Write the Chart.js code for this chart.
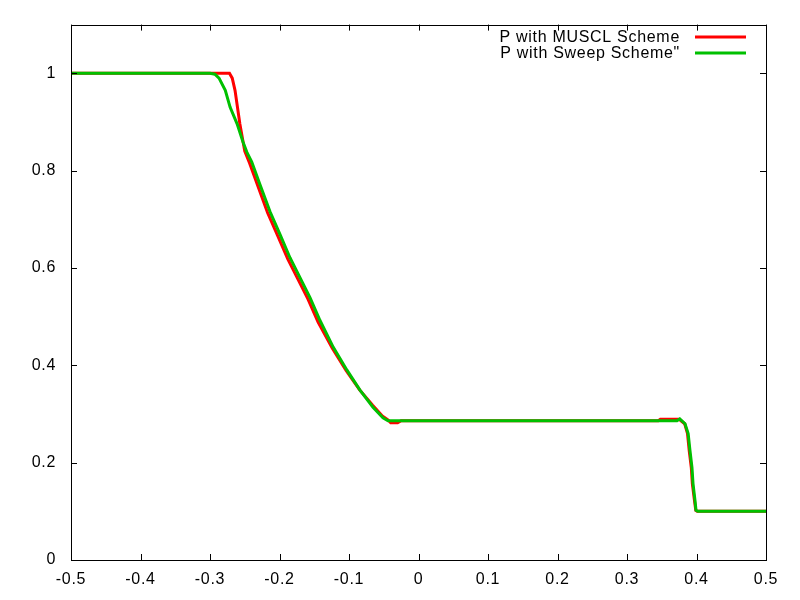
<!DOCTYPE html>
<html>
<head>
<meta charset="utf-8">
<script src="https://cdn.jsdelivr.net/npm/chart.js@4.4.1/dist/chart.umd.min.js"></script>
<style>
  body { margin: 0; background: #fff; }
  #wrap { width: 800px; height: 600px; }
</style>
</head>
<body>
<div id="wrap"><canvas id="chart" width="800" height="600"></canvas></div>
<script>
// valores
const musclX = [-0.5, -0.272, -0.268, -0.264, -0.257, -0.25, -0.243, -0.231, -0.217, -0.2025, -0.188, -0.1735, -0.159, -0.1445, -0.124, -0.104, -0.085, -0.066, -0.052, -0.044, -0.04, -0.03, -0.025, 0.345, 0.348, 0.375, 0.383, 0.387, 0.3895, 0.3925, 0.394, 0.397, 0.399, 0.401, 0.5];
const musclP = [1.0, 1.0, 0.99, 0.965, 0.896, 0.84, 0.815, 0.768, 0.713, 0.666, 0.618, 0.577, 0.536, 0.489, 0.435, 0.389, 0.350, 0.318, 0.296, 0.288, 0.282, 0.282, 0.286, 0.286, 0.289, 0.289, 0.28, 0.26, 0.225, 0.19, 0.157, 0.123, 0.102, 0.1, 0.1];

const sweepX = [-0.5, -0.3, -0.293, -0.287, -0.278, -0.271, -0.261, -0.2525, -0.247, -0.240, -0.228, -0.2137, -0.1993, -0.1849, -0.1705, -0.1561, -0.1417, -0.1226, -0.1029, -0.0842, -0.0655, -0.0511, -0.0439, 0.372, 0.376, 0.3835, 0.388, 0.3906, 0.3935, 0.395, 0.3978, 0.3993, 0.402, 0.5];
const sweepP = [1.0, 1.0, 0.998, 0.99, 0.965, 0.93, 0.896, 0.859, 0.838, 0.818, 0.771, 0.716, 0.669, 0.621, 0.580, 0.539, 0.492, 0.437, 0.390, 0.349, 0.314, 0.292, 0.286, 0.286, 0.290, 0.28, 0.26, 0.225, 0.19, 0.157, 0.123, 0.102, 0.1, 0.1];

const xTicks = [-0.5, -0.4, -0.3, -0.2, -0.1, 0, 0.1, 0.2, 0.3, 0.4, 0.5];
const yTicks = [0, 0.2, 0.4, 0.6, 0.8, 1];

const familia = '"Liberation Sans", Arial, sans-serif';
const espaco = '0.7px';

function pontos(xs, ys) {
    return xs.map(function (x, i) { return {x: x, y: ys[i]}; });
}

// borda, ticks para dentro e legenda no estilo gnuplot
const molduraPlugin = {
    id: 'moldura',
    beforeDraw: function (chart) {
        chart.ctx.letterSpacing = espaco;
    },
    afterDraw: function (chart) {
        const ctx = chart.ctx;
        const a = chart.chartArea;
        const sx = chart.scales.x, sy = chart.scales.y;
        const tl = 6;
        ctx.save();
        ctx.strokeStyle = '#000';
        ctx.lineWidth = 1;
        ctx.beginPath();
        xTicks.forEach(function (v) {
            let px = Math.round(sx.getPixelForValue(v)) + 0.5;
            ctx.moveTo(px, a.bottom); ctx.lineTo(px, a.bottom - tl);
            ctx.moveTo(px, a.top); ctx.lineTo(px, a.top + tl);
        });
        yTicks.forEach(function (v) {
            let py = Math.round(sy.getPixelForValue(v)) + 0.5;
            ctx.moveTo(a.left, py); ctx.lineTo(a.left + tl, py);
            ctx.moveTo(a.right, py); ctx.lineTo(a.right - tl, py);
        });
        ctx.stroke();
        ctx.strokeRect(Math.round(a.left) + 0.5, Math.round(a.top) + 0.5, Math.round(a.right - a.left), Math.round(a.bottom - a.top));

        // legenda
        ctx.font = '16px ' + familia;
        ctx.letterSpacing = espaco;
        ctx.textAlign = 'right';
        ctx.textBaseline = 'middle';
        chart.data.datasets.forEach(function (ds, i) {
            let y = 37 + i * 16;
            ctx.fillStyle = '#000';
            ctx.fillText(ds.label, 680, y + 1);
            ctx.strokeStyle = ds.borderColor;
            ctx.lineWidth = 3;
            ctx.beginPath();
            ctx.moveTo(695, y);
            ctx.lineTo(746, y);
            ctx.stroke();
        });
        ctx.restore();
    }
};

const ctx = document.getElementById('chart').getContext('2d');
const myChart = new Chart(ctx, {
    type: 'scatter',
    data: {
        datasets: [{
            label: 'P with MUSCL Scheme',
            data: pontos(musclX, musclP),
            showLine: true,
            borderColor: '#ff0000',
            backgroundColor: '#ff0000',
            borderWidth: 3,
            pointRadius: 0,
            order: 2
        }, {
            label: 'P with Sweep Scheme"',
            data: pontos(sweepX, sweepP),
            showLine: true,
            borderColor: '#00c000',
            backgroundColor: '#00c000',
            borderWidth: 3,
            pointRadius: 0,
            order: 1
        }]
    },
    options: {
        responsive: false,
        animation: false,
        layout: {padding: {top: 22, right: 34, left: 0, bottom: 0}},
        plugins: {legend: {display: false}, tooltip: {enabled: false}},
        scales: {
            x: {
                type: 'linear',
                min: -0.5,
                max: 0.5,
                grid: {display: false, drawTicks: false},
                border: {display: false},
                afterBuildTicks: function (scale) {
                    scale.ticks = xTicks.map(function (v) { return {value: v}; });
                },
                afterFit: function (scale) { scale.height = 40; },
                ticks: {
                    color: '#000',
                    padding: 10,
                    maxRotation: 0,
                    autoSkip: false,
                    font: {family: familia, size: 16},
                    callback: function (v) { return String(+Number(v).toFixed(1)); }
                }
            },
            y: {
                min: 0,
                max: 1.1,
                grid: {display: false, drawTicks: false},
                border: {display: false},
                afterBuildTicks: function (scale) {
                    scale.ticks = yTicks.map(function (v) { return {value: v}; });
                },
                afterFit: function (scale) { scale.width = 71; },
                ticks: {
                    color: '#000',
                    padding: 15,
                    autoSkip: false,
                    font: {family: familia, size: 16},
                    callback: function (v) { return String(+Number(v).toFixed(1)); }
                }
            }
        }
    },
    plugins: [molduraPlugin]
});
</script>
</body>
</html>
